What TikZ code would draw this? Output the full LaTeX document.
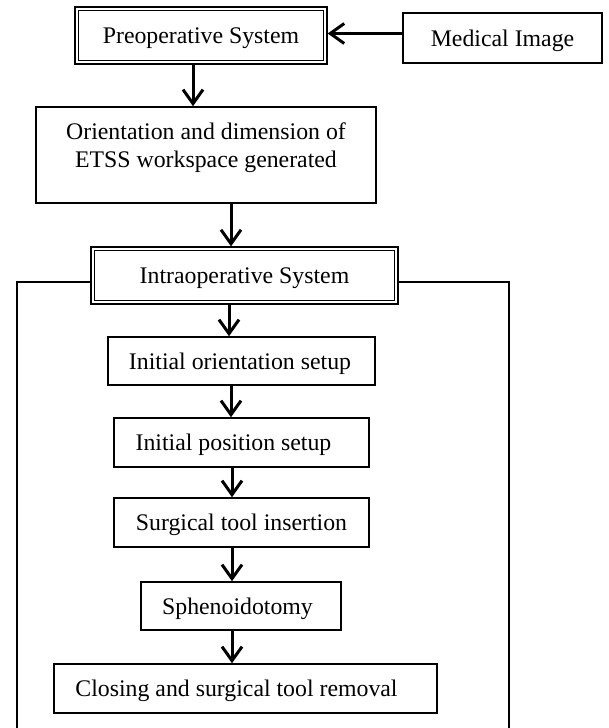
\documentclass[tikz,border=0pt]{standalone}
\usepackage{fontspec}
\setmainfont{Liberation Serif}
\usetikzlibrary{arrows.meta}
\begin{document}
\begin{tikzpicture}[x=1pt,y=-1pt,
  every node/.style={font=\fontsize{23.8}{28}\selectfont},
  box/.style={draw, line width=1.6pt, inner sep=0pt, text height=16pt, text depth=0pt},
  dbox/.style={draw, line width=1.3pt, inner sep=0pt, text height=16pt, text depth=0pt},
  innerline/.style={line width=1.3pt},
  arr/.style={line width=3pt, -{Straight Barb[length=14pt,width=20pt,line width=3pt]}},
  frameline/.style={line width=2.2pt}]
\useasboundingbox (0,0) rectangle (608,728);

\node[dbox, minimum width=252pt, minimum height=57pt] (pre) at (201,35.5) {Preoperative System};
\draw[innerline] ([xshift=4pt,yshift=-4pt]pre.north west) rectangle ([xshift=-4pt,yshift=4pt]pre.south east);
\node[box, minimum width=199pt, minimum height=50pt] (med) at (502.5,38) {Medical Image};
\node[box, minimum width=340pt, minimum height=96pt] (ori) at (206,155) {};
\node[align=center, inner sep=0pt] (oritext) at (206,148) {Orientation and dimension of\\ETSS workspace generated};
\node[dbox, minimum width=307pt, minimum height=57pt] (intra) at (244.5,275.5) {Intraoperative System};
\draw[innerline] ([xshift=4pt,yshift=-4pt]intra.north west) rectangle ([xshift=-4pt,yshift=4pt]intra.south east);
\node[box, minimum width=267pt, minimum height=48pt] (io) at (241.5,361) {Initial orientation setup\hspace*{3pt}};
\node[box, minimum width=255pt, minimum height=49pt] (ip) at (241.5,442.5) {Initial position setup\hspace*{16pt}};
\node[box, minimum width=255pt, minimum height=49pt] (st) at (241.5,522.5) {Surgical tool insertion};
\node[box, minimum width=200pt, minimum height=48pt] (sp) at (241,606) {Sphenoidotomy\hspace*{7pt}};
\node[box, minimum width=383pt, minimum height=49pt] (cl) at (245.5,688.5) {Closing and surgical tool removal\hspace*{18pt}};

\coordinate (ya) at (0,33.5);
\coordinate (x1) at (193,0);
\coordinate (x2) at (231,0);
\coordinate (x3) at (229,0);
\coordinate (x4) at (231,0);
\coordinate (x5) at (232,0);
\coordinate (fl) at (17,282);
\coordinate (fr) at (509,282);
\coordinate (flb) at (17,728);
\coordinate (frb) at (509,728);

\draw[arr] (med.west |- ya) -- (pre.east |- ya);
\draw[arr] (pre.south -| x1) -- (ori.north -| x1);
\draw[arr] (ori.south -| x2) -- (intra.north -| x2);
\draw[arr] (intra.south -| x3) -- (io.north -| x3);
\draw[arr] (io.south -| x4) -- (ip.north -| x4);
\draw[arr] (ip.south -| x5) -- (st.north -| x5);
\draw[arr] (st.south -| x5) -- (sp.north -| x5);
\draw[arr] (sp.south -| x5) -- (cl.north -| x5);

\draw[frameline] (intra.west |- fl) -- (fl) -- (flb);
\draw[frameline] (intra.east |- fr) -- (fr) -- (frb);
\end{tikzpicture}
\end{document}
